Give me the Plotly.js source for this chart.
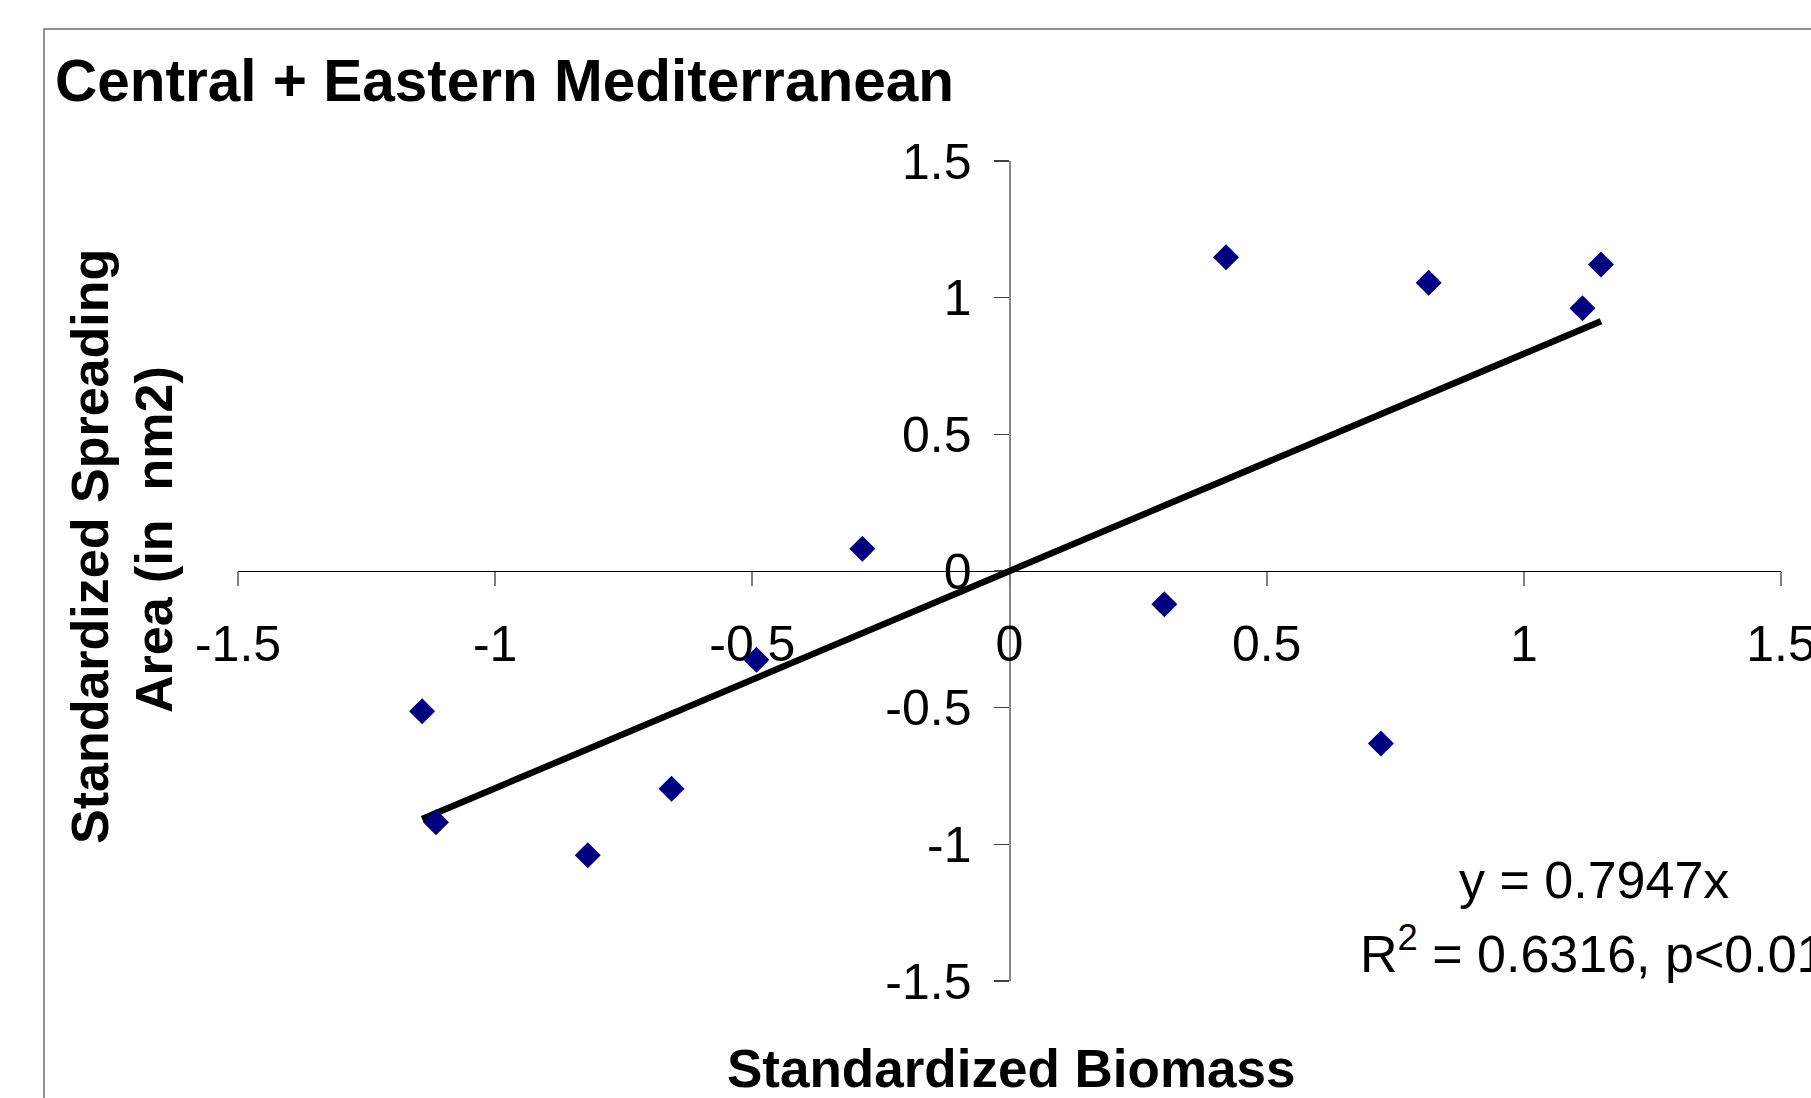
<!DOCTYPE html>
<html>
<head>
<meta charset="utf-8">
<script src="https://cdn.plot.ly/plotly-3.0.1.min.js"></script>
<style>html,body{margin:0;padding:0;background:#fff;}#chart{width:1811px;height:1098px;}</style>
</head>
<body>
<div id="chart"></div>
<script>
// ---- data ----
var biomass = [-1.142, -1.115, -0.820, -0.657, -0.492, -0.286, 0.301, 0.421, 0.722, 0.815, 1.114, 1.150];
var spreadingArea = [-0.513, -0.919, -1.040, -0.797, -0.325, 0.081, -0.122, 1.148, -0.631, 1.055, 0.961, 1.121];
var trendSlope = 0.7947;
var tickValues = [-1.5, -1, -0.5, 0, 0.5, 1, 1.5];
var tickLabels = ["-1.5", "-1", "-0.5", "0", "0.5", "1", "1.5"];
var chartTitle = "Central + Eastern Mediterranean";
var xTitle = "Standardized Biomass";
var yTitleLines = ["Standardized Spreading", "Area (in\u00a0 nm2)"];
var equationLine = "y = 0.7947x";
var statsLine = "R<sup>2</sup> = 0.6316, p&lt;0.01";

// trendline spans the data's x extent
var xMin = Math.min.apply(null, biomass);
var xMax = Math.max.apply(null, biomass);
var trendX = [xMin, xMax];
var trendY = trendX.map(function (v) { return trendSlope * v; });

var FONT = "Liberation Sans, Arial, sans-serif";

var traces = [
  {
    x: trendX, y: trendY, type: "scatter", mode: "lines",
    line: { color: "#000000", width: 6.5 },
    hoverinfo: "skip", showlegend: false
  },
  {
    x: biomass, y: spreadingArea, type: "scatter", mode: "markers",
    marker: { symbol: "diamond", size: 20, color: "#000080", line: { width: 0 } },
    showlegend: false
  }
];

var layout = {
  width: 1811, height: 1098,
  paper_bgcolor: "#ffffff", plot_bgcolor: "rgba(0,0,0,0)",
  margin: { l: 238, r: 30, t: 161, b: 117, pad: 0 },
  showlegend: false,
  font: { family: FONT, color: "#000000" },
  title: {
    text: chartTitle,
    font: { family: FONT, size: 58.5, weight: "bold", color: "#000000" },
    xref: "container", yref: "container",
    x: 55 / 1811, xanchor: "left",
    y: 1 - 81 / 1098, yanchor: "middle"
  },
  xaxis: {
    range: [-1.5, 1.5], fixedrange: true,
    anchor: "free", position: 0.5,
    tickmode: "array", tickvals: tickValues, ticktext: tickLabels,
    showline: true, linecolor: "#000000", linewidth: 1.2,
    ticks: "outside", ticklen: 14, tickwidth: 2, tickcolor: "#808080",
    tickfont: { family: FONT, size: 50, color: "#000000" },
    ticklabelstandoff: 15,
    ticklabeloverflow: "allow",
    showgrid: false, zeroline: false,
    layer: "below traces"
  },
  yaxis: {
    range: [-1.5, 1.5], fixedrange: true,
    anchor: "free", position: 0.5,
    tickmode: "array", tickvals: tickValues, ticktext: tickLabels,
    showline: true, linecolor: "#888888", linewidth: 2,
    ticks: "outside", ticklen: 15, tickwidth: 1.5, tickcolor: "#404040",
    tickfont: { family: FONT, size: 50, color: "#000000" },
    ticklabelstandoff: 12,
    ticklabeloverflow: "allow",
    showgrid: false, zeroline: false,
    layer: "below traces"
  },
  shapes: [
    {
      type: "rect", xref: "paper", yref: "paper",
      x0: (44 - 238) / 1543, x1: 1.5,
      y0: -0.5, y1: (981 - 29) / 820,
      line: { color: "#6e6e6e", width: 1.5 },
      fillcolor: "rgba(0,0,0,0)", layer: "below"
    }
  ],
  annotations: [
    {
      text: xTitle, xref: "paper", yref: "paper",
      x: (1011 - 238) / 1543, y: (981 - 1068) / 820,
      xanchor: "center", yanchor: "middle", showarrow: false,
      font: { family: FONT, size: 53, weight: "bold", color: "#000000" }
    },
    {
      text: yTitleLines[0], xref: "paper", yref: "paper",
      x: (90 - 238) / 1543, y: (981 - 547) / 820, textangle: -90,
      xanchor: "center", yanchor: "middle", showarrow: false,
      font: { family: FONT, size: 52, weight: "bold", color: "#000000" }
    },
    {
      text: yTitleLines[1], xref: "paper", yref: "paper",
      x: (154 - 238) / 1543, y: (981 - 540) / 820, textangle: -90,
      xanchor: "center", yanchor: "middle", showarrow: false,
      font: { family: FONT, size: 52, weight: "bold", color: "#000000" }
    },
    {
      text: equationLine, xref: "paper", yref: "paper",
      x: (1594 - 238) / 1543, y: (981 - 880) / 820,
      xanchor: "center", yanchor: "middle", showarrow: false,
      font: { family: FONT, size: 52, color: "#000000" }
    },
    {
      text: statsLine, xref: "paper", yref: "paper",
      x: (1358 - 238) / 1543, y: (981 - 950) / 820,
      xanchor: "left", yanchor: "middle", showarrow: false,
      font: { family: FONT, size: 52, color: "#000000" }
    }
  ]
};

Plotly.newPlot("chart", traces, layout, { displayModeBar: false, staticPlot: true });
</script>
</body>
</html>
